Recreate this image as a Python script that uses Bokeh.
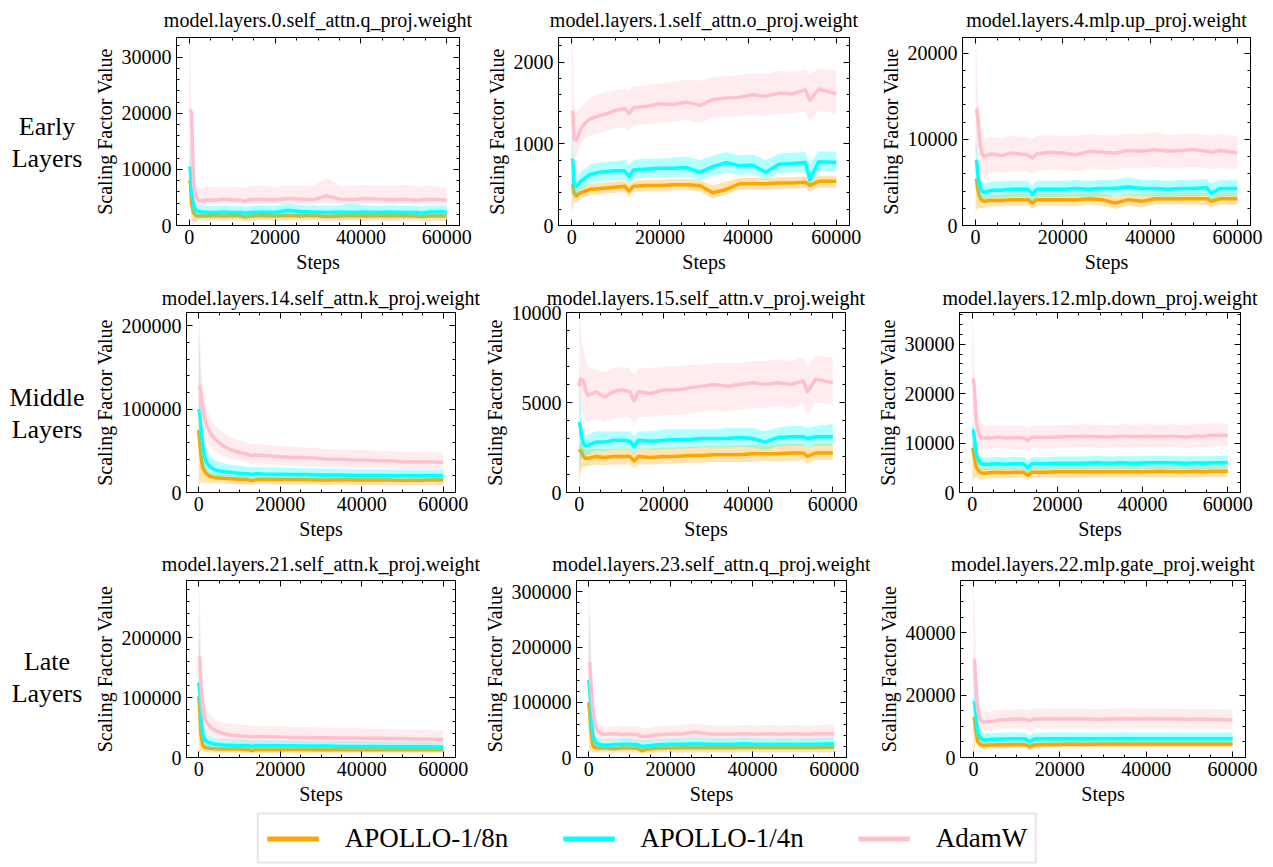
from bokeh.plotting import figure
from bokeh.layouts import column, row, Spacer
from bokeh.models import (Range1d, FixedTicker, LinearAxis, Legend, LegendItem, Div,
                          BasicTickFormatter, CustomJSTickFormatter)
from bokeh.embed import file_html
from bokeh.resources import INLINE

FONT = "Liberation Serif"

# ---------------- data ----------------
STEPS = [0, 250, 500, 1000, 1500, 2000, 3000, 4000, 6000, 8000, 10000, 12000, 13000, 14000, 17000,
         20000, 23000, 26000, 29000, 32000, 35000, 38000, 41000, 44000, 47000, 50000, 53000, 54000, 56000, 60000]

SERIES = ["APOLLO-1/8n", "APOLLO-1/4n", "AdamW"]
COLORS = ["#FFA500", "#00FFFF", "#FFC0CB"]
ROW_LABELS = [["Early", "Layers"], ["Middle", "Layers"], ["Late", "Layers"]]

TITLES = ["model.layers.0.self_attn.q_proj.weight", "model.layers.1.self_attn.o_proj.weight",
          "model.layers.4.mlp.up_proj.weight", "model.layers.14.self_attn.k_proj.weight",
          "model.layers.15.self_attn.v_proj.weight", "model.layers.12.mlp.down_proj.weight",
          "model.layers.21.self_attn.k_proj.weight", "model.layers.23.self_attn.q_proj.weight",
          "model.layers.22.mlp.gate_proj.weight"]
X_TICKS = [0, 20000, 40000, 60000]
Y_TICKS = [[0, 10000, 20000, 30000], [0, 1000, 2000], [0, 10000, 20000], [0, 100000, 200000],
           [0, 5000, 10000], [0, 10000, 20000, 30000], [0, 100000, 200000],
           [0, 100000, 200000, 300000], [0, 20000, 40000]]
Y_MINOR = [2000, 200, 2000, 20000, 1000, 2000, 20000, 20000, 5000]
Y_TOP = [33500, 2300, 21800, 216000, 10000, 36400, 295000, 320500, 56700]

# Panel 1: layers.0 q_proj
P1_8N_MEAN = [8000, 7500, 4000, 2200, 1800, 1700, 1700, 1700, 1800, 1700, 1800, 1700, 1500, 1700, 1800, 1700, 1800, 1700, 1800, 1600, 1700, 1800, 1700, 1800, 1700, 1800, 1700, 1600, 1700, 1700]
P1_8N_HI = [9500, 9000, 5500, 3000, 2500, 2400, 2400, 2400, 2500, 2400, 2500, 2400, 2300, 2400, 2500, 2400, 2500, 2400, 2500, 2400, 2400, 2500, 2400, 2500, 2400, 2500, 2400, 2300, 2400, 2400]
P1_8N_LO = [4000, 3000, 1000, 500, 700, 900, 900, 900, 1000, 900, 1000, 900, 800, 900, 1000, 900, 1000, 900, 1000, 900, 900, 1000, 900, 1000, 900, 1000, 900, 900, 900, 900]
P1_4N_MEAN = [10500, 10000, 6000, 3500, 2800, 2500, 2400, 2300, 2300, 2400, 2300, 2300, 2200, 2300, 2400, 2300, 2700, 2500, 2400, 2300, 2400, 2300, 2400, 2300, 2400, 2300, 2300, 2200, 2400, 2400]
P1_4N_HI = [14000, 13000, 8000, 4800, 4000, 3700, 3600, 3500, 3500, 3600, 3500, 3500, 3400, 3500, 3600, 3500, 4000, 3600, 3600, 3500, 3600, 4000, 3600, 3500, 3600, 3500, 3500, 3400, 3600, 3600]
P1_4N_LO = [7000, 6000, 3000, 1500, 1200, 1300, 1400, 1400, 1400, 1500, 1400, 1400, 1400, 1400, 1500, 1400, 1600, 1500, 1500, 1400, 1500, 1400, 1500, 1400, 1500, 1400, 1400, 1400, 1500, 1500]
P1_AD_MEAN = [20500, 20500, 20000, 7000, 5200, 4400, 4400, 4600, 4500, 4700, 4600, 4500, 4300, 4600, 4700, 4600, 4800, 4700, 4600, 5300, 4700, 4600, 4800, 4700, 4600, 4700, 4500, 4600, 4700, 4500]
P1_AD_HI = [33000, 31000, 16000, 9000, 7500, 6600, 6700, 6900, 6800, 7000, 6900, 6800, 6700, 7000, 7100, 6900, 7200, 7000, 7100, 8500, 7100, 7000, 7200, 7100, 7000, 7300, 6900, 7000, 7100, 6800]
P1_AD_LO = [10000, 10000, 9000, 4500, 3700, 3300, 3500, 3700, 3700, 3800, 3800, 3700, 3600, 3800, 3800, 3800, 3900, 3800, 3800, 3900, 3800, 3800, 3900, 3800, 3800, 3800, 3700, 3700, 3800, 3700]

# Panel 2: layers.1 o_proj
P2_8N_MEAN = [510, 500, 400, 360, 380, 400, 420, 440, 450, 460, 470, 480, 420, 480, 490, 490, 500, 500, 490, 400, 440, 510, 510, 510, 520, 520, 530, 490, 540, 540]
P2_8N_HI = [580, 570, 480, 430, 450, 470, 490, 510, 520, 530, 540, 550, 500, 550, 560, 560, 570, 570, 560, 490, 540, 580, 580, 580, 590, 590, 600, 570, 610, 610]
P2_8N_LO = [150, 200, 280, 290, 310, 330, 350, 370, 380, 390, 400, 410, 350, 410, 420, 420, 430, 430, 420, 330, 380, 440, 440, 440, 450, 450, 460, 420, 460, 460]
P2_4N_MEAN = [820, 800, 520, 480, 500, 540, 580, 620, 650, 660, 670, 670, 600, 680, 690, 700, 700, 710, 650, 720, 770, 730, 740, 650, 750, 760, 770, 560, 780, 770]
P2_4N_HI = [1100, 1050, 650, 580, 620, 660, 700, 740, 770, 780, 790, 800, 740, 800, 820, 820, 830, 840, 800, 850, 900, 860, 870, 800, 880, 890, 900, 750, 910, 900]
P2_4N_LO = [400, 350, 380, 380, 400, 430, 470, 510, 540, 550, 560, 560, 500, 570, 580, 590, 590, 600, 550, 610, 650, 620, 630, 560, 640, 650, 660, 480, 660, 650]
P2_AD_MEAN = [1400, 1380, 1060, 1040, 1100, 1180, 1250, 1300, 1340, 1370, 1410, 1430, 1370, 1440, 1460, 1490, 1480, 1510, 1470, 1540, 1560, 1570, 1600, 1580, 1620, 1610, 1660, 1530, 1670, 1610]
P2_AD_HI = [2300, 2250, 1500, 1350, 1420, 1450, 1500, 1560, 1600, 1640, 1660, 1680, 1650, 1700, 1720, 1740, 1760, 1780, 1770, 1810, 1830, 1840, 1860, 1850, 1890, 1880, 1910, 1850, 1920, 1900]
P2_AD_LO = [700, 800, 800, 850, 900, 1000, 1060, 1100, 1130, 1160, 1190, 1200, 1150, 1220, 1240, 1260, 1270, 1290, 1250, 1320, 1320, 1340, 1360, 1340, 1370, 1370, 1400, 1280, 1400, 1370]

# Panel 3: layers.4 up_proj
P3_8N_MEAN = [5400, 5200, 4200, 3200, 2900, 2800, 2900, 2900, 2900, 3000, 3000, 3000, 2600, 3000, 3000, 3000, 3000, 3100, 3000, 2600, 3000, 2800, 3100, 3100, 3100, 3100, 3100, 2800, 3100, 3100]
P3_8N_HI = [6000, 5800, 5000, 3800, 3600, 3500, 3600, 3600, 3600, 3700, 3700, 3700, 3300, 3700, 3700, 3700, 3700, 3800, 3700, 3400, 3700, 3600, 3800, 3800, 3800, 3800, 3800, 3500, 3800, 3800]
P3_8N_LO = [1500, 1800, 2000, 2000, 2000, 2100, 2200, 2200, 2200, 2300, 2300, 2300, 1900, 2300, 2300, 2300, 2300, 2400, 2300, 1900, 2300, 2100, 2400, 2400, 2400, 2400, 2400, 2100, 2400, 2400]
P3_4N_MEAN = [7600, 7400, 6000, 4500, 4000, 3800, 4000, 4100, 4100, 4200, 4200, 4200, 3600, 4200, 4200, 4200, 4300, 4200, 4300, 4300, 4500, 4300, 4300, 4200, 4300, 4300, 4400, 3700, 4300, 4300]
P3_4N_HI = [10000, 9500, 7500, 5600, 5100, 4900, 5000, 5100, 5100, 5200, 5200, 5200, 4700, 5200, 5200, 5200, 5300, 5200, 5300, 5300, 5600, 5300, 5300, 5200, 5300, 5300, 5400, 4900, 5300, 5300]
P3_4N_LO = [5000, 4500, 3800, 3200, 3000, 2900, 3100, 3200, 3200, 3300, 3300, 3300, 2800, 3300, 3300, 3300, 3400, 3300, 3400, 3400, 3500, 3400, 3400, 3300, 3400, 3400, 3500, 2900, 3400, 3400]
P3_AD_MEAN = [13500, 13400, 12500, 9500, 8300, 8000, 8200, 8300, 8100, 8400, 8300, 8200, 7800, 8300, 8500, 8400, 8200, 8600, 8500, 8400, 8700, 8600, 8800, 8600, 8700, 8800, 8600, 8500, 8700, 8400]
P3_AD_HI = [21800, 20000, 16000, 12000, 10800, 10000, 10200, 10300, 10100, 10400, 10300, 10300, 10000, 10400, 10500, 10300, 10400, 10600, 10500, 10400, 10700, 10600, 10800, 10500, 10600, 10700, 10500, 10400, 10600, 10300]
P3_AD_LO = [8000, 8500, 8000, 6500, 6000, 5800, 6000, 6200, 6100, 6300, 6300, 6200, 5900, 6300, 6500, 6400, 6300, 6600, 6500, 6500, 6700, 6600, 6800, 6600, 6700, 6800, 6600, 6500, 6700, 6500]

# Panel 4: layers.14 k_proj
P4_8N_MEAN = [75000, 60000, 45000, 30000, 25000, 22000, 19000, 18000, 17000, 16500, 16000, 15500, 14000, 15500, 16000, 15500, 15500, 15500, 15000, 15000, 15500, 15000, 15000, 15000, 15000, 14500, 15000, 14500, 15000, 15000]
P4_8N_HI = [140000, 110000, 70000, 40000, 32000, 28000, 24000, 22500, 21500, 21000, 20500, 20000, 18500, 20000, 20500, 20000, 20000, 20000, 19500, 19500, 20000, 19500, 19500, 19500, 19500, 19000, 19500, 19000, 19500, 19500]
P4_8N_LO = [5000, 10000, 12000, 12000, 12000, 12000, 11000, 11000, 10500, 10500, 10000, 10000, 9000, 10000, 10000, 9500, 9500, 9500, 9500, 9000, 9500, 9000, 9000, 9000, 9000, 9000, 9000, 9000, 9000, 9000]
P4_4N_MEAN = [100000, 95000, 80000, 55000, 42000, 35000, 30000, 27000, 25000, 24000, 23000, 22500, 21500, 22500, 22000, 22000, 21500, 21500, 21000, 21000, 21000, 20500, 20500, 20500, 20000, 20000, 20000, 20000, 20000, 20000]
P4_4N_HI = [190000, 170000, 120000, 75000, 58000, 50000, 42000, 38000, 35000, 33000, 32000, 31000, 30000, 31000, 30000, 30000, 29500, 29000, 29000, 28500, 28500, 28000, 28000, 28000, 27500, 27500, 27500, 27000, 27000, 27000]
P4_4N_LO = [60000, 55000, 45000, 35000, 28000, 24000, 21000, 19000, 18000, 17500, 17000, 16500, 15500, 16500, 16000, 16000, 15500, 15500, 15500, 15000, 15000, 15000, 15000, 15000, 14500, 14500, 14500, 14500, 14500, 14500]
P4_AD_MEAN = [128000, 127000, 120000, 100000, 88000, 80000, 70000, 64000, 56000, 51000, 48000, 46000, 44000, 45000, 44000, 43000, 42000, 42000, 41000, 40000, 40000, 39000, 39000, 38000, 38000, 37000, 37000, 37000, 37000, 36000]
P4_AD_HI = [210000, 200000, 160000, 130000, 110000, 100000, 88000, 80000, 72000, 66000, 62000, 60000, 58000, 59000, 57000, 56000, 55000, 54000, 53000, 52000, 52000, 51000, 51000, 50000, 50000, 49000, 49000, 49000, 49000, 48000]
P4_AD_LO = [90000, 95000, 90000, 75000, 66000, 60000, 54000, 50000, 44000, 40000, 38000, 36000, 34000, 35000, 34000, 33000, 32000, 32000, 31000, 31000, 30000, 30000, 29000, 29000, 29000, 28000, 28000, 28000, 28000, 27000]

# Panel 5: layers.15 v_proj
P5_8N_MEAN = [2400, 2300, 2300, 2000, 1900, 1900, 1950, 2000, 1950, 2000, 2000, 2000, 1750, 2000, 1950, 2000, 2000, 2050, 2050, 2100, 2100, 2100, 2150, 2150, 2150, 2200, 2200, 2000, 2200, 2200]
P5_8N_HI = [2900, 2800, 2800, 2500, 2400, 2400, 2400, 2450, 2400, 2450, 2450, 2450, 2200, 2450, 2450, 2500, 2500, 2550, 2550, 2600, 2600, 2600, 2650, 2650, 2650, 2700, 2700, 2500, 2700, 2700]
P5_8N_LO = [500, 900, 1300, 1400, 1450, 1450, 1500, 1550, 1500, 1550, 1550, 1550, 1350, 1550, 1550, 1600, 1600, 1650, 1650, 1700, 1700, 1700, 1700, 1750, 1750, 1750, 1800, 1600, 1800, 1800]
P5_4N_MEAN = [3900, 3700, 3200, 2700, 2600, 2600, 2700, 2800, 2800, 2900, 2900, 2850, 2550, 2900, 2850, 2900, 2950, 2950, 3000, 3000, 3000, 3050, 3000, 2800, 3050, 3100, 3100, 3000, 3100, 3100]
P5_4N_HI = [7000, 5500, 4000, 3300, 3200, 3200, 3300, 3400, 3400, 3400, 3400, 3400, 3100, 3400, 3400, 3500, 3500, 3500, 3500, 3500, 3600, 3600, 3600, 3400, 3600, 3700, 3700, 3600, 3700, 3800]
P5_4N_LO = [1000, 1500, 2000, 2100, 2100, 2100, 2200, 2300, 2300, 2400, 2400, 2400, 2100, 2400, 2400, 2400, 2450, 2450, 2500, 2500, 2500, 2550, 2500, 2350, 2550, 2600, 2600, 2500, 2600, 2600]
P5_AD_MEAN = [5900, 6300, 6300, 6200, 5700, 5400, 5500, 5600, 5300, 5600, 5700, 5600, 5100, 5600, 5500, 5700, 5700, 5800, 5900, 6000, 5900, 6000, 6100, 6000, 6100, 6000, 6200, 5600, 6300, 6100]
P5_AD_HI = [10000, 9500, 8500, 8000, 7300, 7000, 6900, 6800, 6700, 6900, 7000, 6900, 6500, 6900, 6900, 7000, 7000, 7100, 7100, 7200, 7200, 7200, 7300, 7300, 7400, 7300, 7500, 7000, 7600, 7500]
P5_AD_LO = [4000, 4500, 4500, 4300, 4000, 3900, 4000, 4100, 3900, 4100, 4200, 4200, 3800, 4200, 4200, 4300, 4300, 4400, 4500, 4600, 4500, 4600, 4700, 4700, 4800, 4700, 4900, 4300, 5000, 4900]

# Panel 6: layers.12 down_proj
P6_8N_MEAN = [9000, 8500, 7000, 5000, 4400, 4000, 3900, 4000, 4100, 4000, 4100, 4100, 3500, 4100, 4100, 4200, 4200, 4200, 4200, 4200, 4200, 4200, 4200, 4300, 4200, 4200, 4300, 4200, 4300, 4300]
P6_8N_HI = [10000, 10000, 8500, 6200, 5500, 5100, 5000, 5100, 5200, 5100, 5200, 5200, 4600, 5200, 5200, 5300, 5300, 5300, 5300, 5300, 5300, 5300, 5300, 5400, 5300, 5300, 5400, 5300, 5400, 5400]
P6_8N_LO = [2000, 2500, 3000, 3000, 2900, 2800, 2800, 2900, 2900, 2900, 3000, 3000, 2500, 3000, 3000, 3000, 3000, 3100, 3100, 3100, 3100, 3100, 3100, 3100, 3100, 3100, 3200, 3100, 3200, 3200]
P6_4N_MEAN = [12600, 12500, 11000, 7500, 6500, 5800, 5700, 5700, 5800, 5700, 5800, 5800, 5000, 5800, 5800, 5900, 5900, 5900, 6000, 5900, 6000, 5900, 6000, 6000, 6000, 5900, 6000, 5900, 6000, 6000]
P6_4N_HI = [14000, 14000, 13000, 9000, 8000, 7300, 7100, 7100, 7200, 7100, 7200, 7200, 6500, 7200, 7200, 7300, 7300, 7300, 7400, 7300, 7400, 7300, 7400, 7400, 7400, 7300, 7400, 7300, 7400, 7400]
P6_4N_LO = [8000, 9000, 8000, 5800, 5000, 4600, 4500, 4500, 4600, 4500, 4600, 4600, 4000, 4600, 4600, 4700, 4700, 4700, 4800, 4700, 4800, 4700, 4800, 4800, 4800, 4700, 4800, 4700, 4800, 4800]
P6_AD_MEAN = [23000, 22800, 21000, 14000, 12000, 11000, 11000, 11000, 11200, 11000, 11100, 11000, 10500, 11200, 11100, 11200, 11300, 11400, 11300, 11200, 11400, 11300, 11400, 11300, 11400, 11200, 11500, 11300, 11600, 11500]
P6_AD_HI = [36000, 33000, 25000, 17000, 15000, 14000, 13500, 13500, 13600, 13400, 13500, 13500, 13000, 13600, 13500, 13600, 13700, 13800, 13700, 13600, 13800, 13700, 13800, 13700, 13800, 13600, 13900, 13700, 14000, 13900]
P6_AD_LO = [14000, 15000, 14000, 11000, 9500, 8700, 8800, 8800, 9000, 8800, 8900, 8800, 8300, 9000, 8900, 9000, 9100, 9200, 9100, 9000, 9200, 9100, 9200, 9100, 9200, 9000, 9300, 9100, 9400, 9300]

# Panel 7: layers.21 k_proj
P7_8N_MEAN = [102000, 80000, 40000, 20000, 17000, 16000, 15000, 14500, 14000, 14000, 14000, 13500, 11500, 13500, 13500, 13500, 13500, 13500, 13000, 13000, 13000, 13000, 13000, 13000, 13000, 13000, 13000, 13000, 13000, 13000]
P7_8N_HI = [205000, 150000, 70000, 28000, 23000, 21000, 19500, 19000, 18500, 18500, 18500, 18000, 16000, 18000, 18000, 18000, 18000, 18000, 17500, 17500, 17500, 17500, 17500, 17500, 17500, 17500, 17500, 17500, 17500, 17500]
P7_8N_LO = [5000, 8000, 10000, 10000, 9000, 9000, 8500, 8500, 8500, 8500, 8500, 8000, 7000, 8000, 8000, 8000, 8000, 8000, 8000, 8000, 8000, 8000, 8000, 8000, 8000, 8000, 8000, 8000, 8000, 8000]
P7_4N_MEAN = [125000, 110000, 80000, 40000, 30000, 26000, 24000, 22000, 21000, 20500, 20000, 20000, 18500, 20000, 19500, 19500, 19500, 19000, 19000, 19000, 18500, 18500, 18500, 18500, 18000, 18000, 18000, 18000, 18000, 17500]
P7_4N_HI = [245000, 200000, 120000, 55000, 45000, 40000, 35000, 32000, 31000, 30500, 30000, 29500, 28500, 29500, 29000, 29000, 28500, 28500, 28000, 28000, 27500, 27500, 27500, 27000, 27000, 27000, 26500, 26500, 26500, 26000]
P7_4N_LO = [40000, 40000, 40000, 22000, 17000, 15000, 14000, 13500, 13000, 13000, 12500, 12500, 11500, 12500, 12500, 12500, 12500, 12000, 12000, 12000, 12000, 12000, 12000, 12000, 11500, 11500, 11500, 11500, 11500, 11500]
P7_AD_MEAN = [168000, 165000, 130000, 80000, 65000, 58000, 50000, 45000, 40000, 37000, 36000, 35000, 34000, 35000, 34500, 34000, 33500, 33500, 33000, 33000, 32500, 32500, 32000, 32000, 31500, 31500, 31000, 31000, 31000, 30000]
P7_AD_HI = [285000, 270000, 200000, 120000, 95000, 80000, 70000, 62000, 58000, 56000, 55000, 54000, 53000, 53000, 52000, 52000, 51000, 51000, 50000, 50000, 49000, 49000, 48000, 48000, 47000, 47000, 46000, 46000, 46000, 45000]
P7_AD_LO = [80000, 90000, 70000, 50000, 43000, 40000, 36000, 33000, 29000, 26000, 25000, 24000, 23000, 24000, 23500, 23000, 23000, 23000, 22500, 22500, 22000, 22000, 22000, 22000, 21500, 21500, 21000, 21000, 21000, 20000]

# Panel 8: layers.23 q_proj
P8_8N_MEAN = [100000, 80000, 50000, 22000, 18000, 17000, 17000, 17000, 16000, 17000, 17000, 16500, 12000, 15000, 17000, 17000, 17500, 17500, 17500, 18000, 17500, 18000, 18000, 18000, 18000, 18000, 18000, 18000, 18000, 18500]
P8_8N_HI = [230000, 170000, 90000, 30000, 25000, 23000, 23000, 23000, 22000, 23000, 23000, 22500, 18000, 21000, 23000, 23000, 23500, 23500, 23500, 24000, 23500, 24000, 24000, 24000, 24000, 24000, 24000, 24000, 24000, 24500]
P8_8N_LO = [5000, 10000, 12000, 10000, 9500, 9000, 9000, 9000, 8500, 9000, 9000, 8500, 6500, 8000, 9000, 9000, 9000, 9000, 9000, 9500, 9000, 9500, 9500, 9500, 9500, 9500, 9500, 9500, 9500, 9500]
P8_4N_MEAN = [140000, 120000, 90000, 40000, 30000, 25000, 23000, 22000, 23000, 24000, 24000, 23000, 20000, 21000, 23000, 24000, 24000, 25000, 24000, 24000, 24000, 25000, 24000, 24000, 24000, 24000, 24000, 24000, 24000, 25000]
P8_4N_HI = [280000, 230000, 140000, 60000, 42000, 36000, 33000, 33000, 34000, 35000, 35000, 34000, 31000, 32000, 34000, 35000, 35000, 36000, 35000, 35000, 35000, 36000, 35000, 35000, 35000, 35000, 35000, 35000, 35000, 36000]
P8_4N_LO = [40000, 50000, 45000, 25000, 20000, 16000, 15000, 14000, 15000, 15000, 15000, 14500, 12500, 13000, 14500, 15000, 15000, 15500, 15000, 15000, 15000, 15500, 15000, 15000, 15000, 15000, 15000, 15000, 15000, 15500]
P8_AD_MEAN = [172000, 170000, 140000, 90000, 60000, 50000, 43000, 42000, 43000, 42000, 42000, 41000, 38000, 38000, 41000, 42000, 43000, 46000, 43000, 42000, 42000, 43000, 42000, 43000, 42000, 43000, 42000, 42000, 43000, 43000]
P8_AD_HI = [310000, 290000, 220000, 100000, 75000, 65000, 57000, 55000, 56000, 56000, 57000, 56000, 53000, 53000, 57000, 58000, 59000, 62000, 59000, 58000, 58000, 59000, 58000, 59000, 58000, 59000, 58000, 58000, 59000, 60000]
P8_AD_LO = [90000, 100000, 80000, 60000, 45000, 38000, 32000, 31000, 32000, 31000, 31000, 30000, 27000, 27000, 30000, 31000, 32000, 34000, 32000, 31000, 31000, 32000, 31000, 32000, 31000, 32000, 31000, 31000, 32000, 32000]

# Panel 9: layers.22 gate_proj
P9_8N_MEAN = [13000, 12500, 9000, 5000, 4300, 4000, 3900, 4000, 4100, 4100, 4200, 4100, 3500, 4000, 4200, 4200, 4300, 4200, 4300, 4300, 4300, 4300, 4300, 4300, 4300, 4300, 4300, 4300, 4300, 4300]
P9_8N_HI = [20000, 17000, 12000, 6500, 5600, 5300, 5200, 5300, 5400, 5400, 5500, 5400, 4800, 5300, 5500, 5500, 5600, 5500, 5600, 5600, 5600, 5600, 5600, 5600, 5600, 5600, 5600, 5600, 5600, 5600]
P9_8N_LO = [1000, 3000, 5000, 3500, 3100, 2900, 2800, 2900, 3000, 3000, 3100, 3000, 2500, 2900, 3100, 3100, 3200, 3100, 3200, 3200, 3200, 3200, 3200, 3200, 3200, 3200, 3200, 3200, 3200, 3200]
P9_4N_MEAN = [18000, 17500, 15000, 8000, 6500, 5800, 5600, 5800, 5900, 6000, 6000, 6000, 5000, 5900, 6000, 6000, 6000, 6000, 6000, 6000, 6100, 6000, 6000, 6000, 6000, 6000, 6000, 6000, 6000, 6000]
P9_4N_HI = [35000, 30000, 20000, 10500, 8800, 8000, 7600, 7800, 7900, 8000, 8000, 8000, 7000, 7900, 8000, 8000, 8000, 8000, 8000, 8000, 8100, 8000, 8000, 8000, 8000, 8000, 8000, 8000, 8000, 8000]
P9_4N_LO = [8000, 9000, 10000, 6000, 4900, 4400, 4300, 4400, 4500, 4500, 4500, 4500, 3800, 4500, 4500, 4500, 4500, 4500, 4500, 4500, 4600, 4500, 4500, 4500, 4500, 4500, 4500, 4500, 4500, 4500]
P9_AD_MEAN = [31500, 31000, 25000, 15000, 12500, 11500, 11300, 11500, 12000, 12200, 12300, 12200, 11800, 12300, 12400, 12300, 12400, 12300, 12200, 12300, 12400, 12300, 12400, 12300, 12300, 12200, 12300, 12200, 12200, 12000]
P9_AD_HI = [55000, 50000, 35000, 20000, 16500, 15000, 14500, 14800, 15200, 15400, 15500, 15500, 15100, 15600, 15700, 15600, 15700, 15600, 15500, 15600, 15700, 15600, 15700, 15600, 15600, 15500, 15600, 15500, 15500, 15300]
P9_AD_LO = [15000, 18000, 16000, 11000, 9500, 8800, 8700, 8800, 9200, 9300, 9300, 9200, 8900, 9300, 9300, 9300, 9400, 9300, 9200, 9300, 9300, 9300, 9300, 9300, 9300, 9200, 9300, 9200, 9200, 9100]

PANEL_DATA = [
    [(P1_8N_MEAN, P1_8N_LO, P1_8N_HI), (P1_4N_MEAN, P1_4N_LO, P1_4N_HI), (P1_AD_MEAN, P1_AD_LO, P1_AD_HI)],
    [(P2_8N_MEAN, P2_8N_LO, P2_8N_HI), (P2_4N_MEAN, P2_4N_LO, P2_4N_HI), (P2_AD_MEAN, P2_AD_LO, P2_AD_HI)],
    [(P3_8N_MEAN, P3_8N_LO, P3_8N_HI), (P3_4N_MEAN, P3_4N_LO, P3_4N_HI), (P3_AD_MEAN, P3_AD_LO, P3_AD_HI)],
    [(P4_8N_MEAN, P4_8N_LO, P4_8N_HI), (P4_4N_MEAN, P4_4N_LO, P4_4N_HI), (P4_AD_MEAN, P4_AD_LO, P4_AD_HI)],
    [(P5_8N_MEAN, P5_8N_LO, P5_8N_HI), (P5_4N_MEAN, P5_4N_LO, P5_4N_HI), (P5_AD_MEAN, P5_AD_LO, P5_AD_HI)],
    [(P6_8N_MEAN, P6_8N_LO, P6_8N_HI), (P6_4N_MEAN, P6_4N_LO, P6_4N_HI), (P6_AD_MEAN, P6_AD_LO, P6_AD_HI)],
    [(P7_8N_MEAN, P7_8N_LO, P7_8N_HI), (P7_4N_MEAN, P7_4N_LO, P7_4N_HI), (P7_AD_MEAN, P7_AD_LO, P7_AD_HI)],
    [(P8_8N_MEAN, P8_8N_LO, P8_8N_HI), (P8_4N_MEAN, P8_4N_LO, P8_4N_HI), (P8_AD_MEAN, P8_AD_LO, P8_AD_HI)],
    [(P9_8N_MEAN, P9_8N_LO, P9_8N_HI), (P9_4N_MEAN, P9_4N_LO, P9_4N_HI), (P9_AD_MEAN, P9_AD_LO, P9_AD_HI)],
]

# ---------------- layout / style ----------------
LABEL_W = 90
COL_W = [390, 390, 395]
ROW_H = [280, 265, 265]
LEG_H = 56
# (left, right, top, bottom) borders per panel
BORDERS = [(86, 21, 37, 55), (78, 21, 37, 55), (92, 15, 37, 55),
           (92, 25, 32, 53), (85, 25, 32, 53), (89, 25, 32, 53),
           (92, 25, 31, 53), (93, 24, 31, 53), (90, 20, 31, 53)]
TITLE_STANDOFF = [13, 8, 11]
ROW_LABEL_TOP = [111, 102, 101]

TXT = "20px"


def style_axis(ax, show_labels=True):
    ax.axis_line_color = "black"
    ax.major_tick_line_color = "black"
    ax.minor_tick_line_color = "black"
    ax.major_tick_in = 6
    ax.major_tick_out = 0
    ax.minor_tick_in = 3
    ax.minor_tick_out = 0
    ax.major_label_text_font = FONT
    ax.major_label_text_color = "black"
    ax.axis_label_text_font = FONT
    ax.axis_label_text_font_style = "normal"
    ax.axis_label_text_color = "black"
    ax.major_label_text_line_height = 1.0
    ax.axis_label_text_line_height = 1.0
    if show_labels:
        ax.major_label_text_font_size = TXT
        ax.axis_label_text_font_size = TXT
    else:
        ax.major_label_text_font_size = "0px"
        ax.major_label_standoff = 0
        ax.axis_label_standoff = 0
        ax.formatter = CustomJSTickFormatter(code="return ''")


def make_panel(i, w, h):
    bl, br, bt, bb = BORDERS[i]
    p = figure(width=w, height=h, output_backend="svg", toolbar_location=None,
               x_range=Range1d(-3000, 63000), y_range=Range1d(0, Y_TOP[i]),
               min_border_left=bl, min_border_right=br, min_border_top=bt, min_border_bottom=bb,
               title=TITLES[i])
    p.title.text_font = FONT
    p.title.text_font_size = TXT
    p.title.text_font_style = "normal"
    p.title.text_color = "black"
    p.title.align = "center"
    p.title.standoff = TITLE_STANDOFF[i // 3]
    p.grid.visible = False
    p.outline_line_color = "black"
    p.background_fill_color = "white"
    p.border_fill_color = "white"

    ymin = list(range(0, int(Y_TOP[i]) + 1, Y_MINOR[i]))
    xmin = list(range(0, 63001, 5000))
    xt = FixedTicker(ticks=X_TICKS, minor_ticks=xmin)
    yt = FixedTicker(ticks=Y_TICKS[i], minor_ticks=ymin)

    p.xaxis.ticker = xt
    p.yaxis.ticker = yt
    p.xaxis.formatter = BasicTickFormatter(use_scientific=False)
    p.yaxis.formatter = BasicTickFormatter(use_scientific=False)
    p.xaxis.axis_label = "Steps"
    p.yaxis.axis_label = "Scaling Factor Value"
    for ax in p.xaxis + p.yaxis:
        style_axis(ax)
    p.xaxis.major_label_standoff = 4
    p.xaxis.axis_label_standoff = 4
    p.yaxis.major_label_standoff = 5
    p.yaxis.axis_label_standoff = 3

    top = LinearAxis(ticker=xt)
    style_axis(top, show_labels=False)
    p.add_layout(top, "above")
    right = LinearAxis(ticker=yt)
    style_axis(right, show_labels=False)
    p.add_layout(right, "right")

    for (mean, lo, hi), c in zip(PANEL_DATA[i], COLORS):
        p.varea(x=STEPS, y1=lo, y2=hi, fill_color=c, fill_alpha=0.3)
        p.line(x=STEPS, y=mean, line_color=c, line_width=3.5, line_join="round")
    return p


def make_row_label(r, h):
    html = ('<div style="margin-top:%dpx;margin-left:4px;width:%dpx;font-family:\'%s\';font-size:26px;'
            'line-height:32px;text-align:center;color:black;">%s<br>%s</div>'
            % (ROW_LABEL_TOP[r], LABEL_W - 4, FONT, ROW_LABELS[r][0], ROW_LABELS[r][1]))
    return Div(text=html, width=LABEL_W, height=h, margin=0)


rows = []
k = 0
for r in range(3):
    items = [make_row_label(r, ROW_H[r])]
    for c in range(3):
        items.append(make_panel(k, COL_W[c], ROW_H[r]))
        k += 1
    rows.append(row(*items))

leg = figure(width=790, height=LEG_H, output_backend="svg", toolbar_location=None,
             x_range=Range1d(0, 1), y_range=Range1d(0, 1),
             x_axis_type=None, y_axis_type=None, min_border=0)
leg.grid.visible = False
leg.outline_line_color = None
litems = []
for name, c in zip(SERIES, COLORS):
    rr = leg.line(x=[float("nan")], y=[float("nan")], line_color=c, line_width=5)
    litems.append(LegendItem(label=name, renderers=[rr]))
legend = Legend(items=litems, orientation="horizontal", location="center",
                label_text_font=FONT, label_text_font_size="27px", label_text_color="black",
                glyph_width=52, glyph_height=20, label_standoff=26, spacing=54, padding=8,
                margin=0, border_line_color="#cccccc", border_line_width=2,
                background_fill_color="white", background_fill_alpha=1.0)
leg.add_layout(legend, "center")

layout = column(*rows, row(Spacer(width=252, height=LEG_H), leg))

with open("out.html", "w") as f:
    f.write(file_html(layout, INLINE))
